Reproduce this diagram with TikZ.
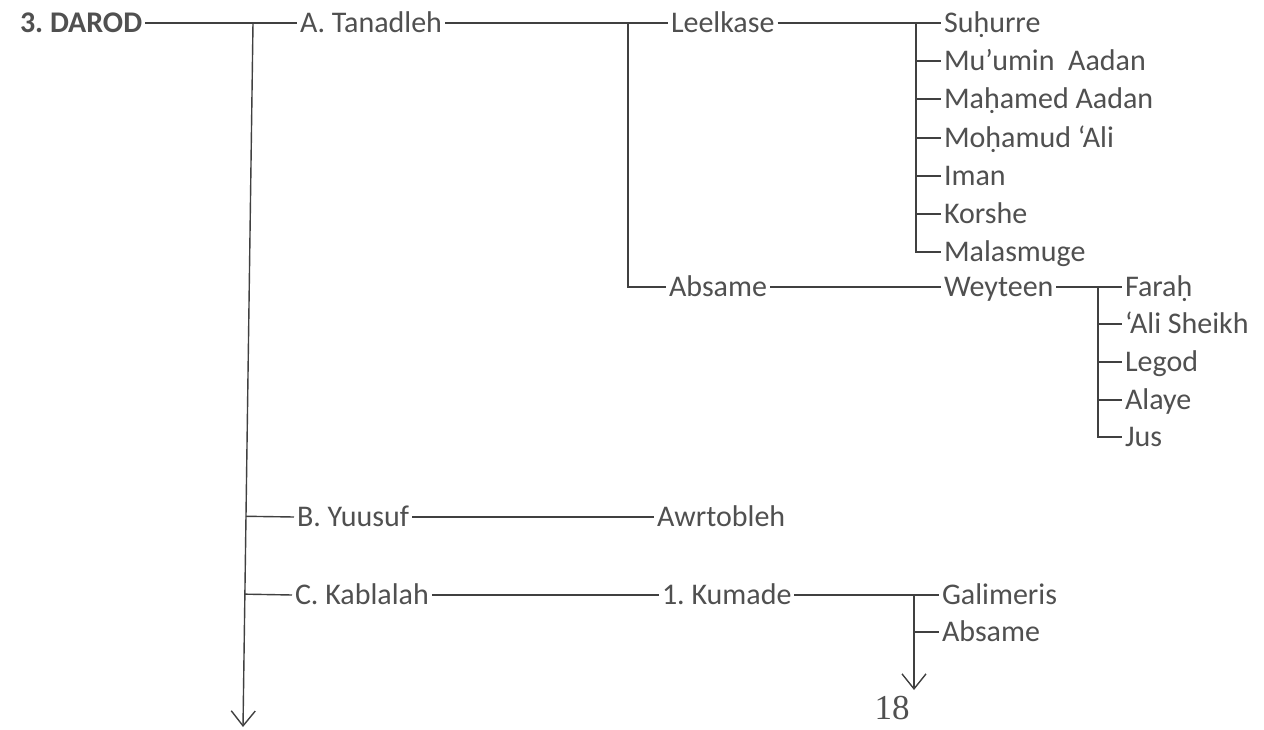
\documentclass[tikz,border=0pt]{standalone}
\usepackage{fontspec}
\newfontfamily\lblfont{Carlito}
\newfontfamily\numfont{Liberation Serif}
\usetikzlibrary{arrows.meta,calc}
\definecolor{txtgray}{HTML}{505050}
\definecolor{lngray}{HTML}{404040}
\tikzset{
  lbl/.style={anchor=west, inner xsep=3pt, inner ysep=0pt, outer sep=0pt,
    text height=19pt, text depth=0pt, text=txtgray,
    font=\lblfont\frenchspacing\fontsize{30}{36}\selectfont},
  conn/.style={draw=lngray, line width=1.4pt},
  barb/.style={-{Straight Barb[length=15pt,width=24pt,line width=1.4pt]}}
}
\begin{document}
\begin{tikzpicture}[x=1pt,y=-1pt]
\useasboundingbox[fill=white] (0,0) rectangle (1264,730);
% nodes
\node[lbl, font=\lblfont\frenchspacing\bfseries\fontsize{30}{36}\selectfont] (darod) at (17,23) {3. DAROD};
\node[lbl] (tan) at (297,23) {A. Tanadleh};
\node[lbl] (leel) at (668,23) {Leelkase};
\node[lbl] (suh) at (941,23) {Suḥurre};
\node[lbl] (mum) at (941,61) {Mu’umin\ \ Aadan};
\node[lbl] (mah) at (941,99) {Maḥamed Aadan};
\node[lbl] (moh) at (941,138) {Moḥamud ‘Ali};
\node[lbl] (ima) at (941,176) {Iman};
\node[lbl] (kor) at (941,214) {Korshe};
\node[lbl] (mal) at (941,252) {Malasmuge};
\node[lbl] (absa) at (666,287) {Absame};
\node[lbl] (wey) at (941,287) {Weyteen};
\node[lbl] (far) at (1122,287) {Faraḥ};
\node[lbl] (ali) at (1122,324) {‘Ali Sheikh};
\node[lbl] (leg) at (1122,362) {Legod};
\node[lbl] (ala) at (1122,400) {Alaye};
\node[lbl] (jus) at (1122,437) {Jus};
\node[lbl] (yuu) at (294,517) {B. Yuusuf};
\node[lbl] (awr) at (654,517) {Awrtobleh};
\node[lbl] (kab) at (292,595) {C. Kablalah};
\node[lbl] (kum) at (659,595) {1. Kumade};
\node[lbl] (gal) at (939,595) {Galimeris};
\node[lbl] (absb) at (939,632) {Absame};
\node[text=txtgray, font=\numfont\fontsize{35}{40}\selectfont, inner sep=0pt] (n18) at (892,708) {18};
% branch points
\coordinate (m0) at (253,23);
\coordinate (m1) at (243,727);
\coordinate (b1) at (628,23);
\coordinate (b2) at (916,23);
\coordinate (b3) at (1098,287);
\coordinate (b4) at (914,595);
\coordinate (b4e) at (914,690);
% main trunk
\draw[conn, barb] (m0) -- (m1);
\draw[conn] (darod.east) -- (tan.west);
\draw[conn] ($(m0)!0.7007!(m1)$) -- (yuu.west);
\draw[conn] ($(m0)!0.8113!(m1)$) -- (kab.west);
% Tanadleh
\draw[conn] (tan.east) -- (leel.west);
\draw[conn] (b1) |- (absa.west);
% Leelkase
\draw[conn] (leel.east) -- (suh.west);
\draw[conn] (b2) |- (mal.west);
\foreach \c in {mum,mah,moh,ima,kor} \draw[conn] (b2 |- \c.west) -- (\c.west);
% Absame -> Weyteen
\draw[conn] (absa.east) -- (wey.west);
\draw[conn] (wey.east) -- (far.west);
\draw[conn] (b3) |- (jus.west);
\foreach \c in {ali,leg,ala} \draw[conn] (b3 |- \c.west) -- (\c.west);
% Yuusuf
\draw[conn] (yuu.east) -- (awr.west);
% Kablalah
\draw[conn] (kab.east) -- (kum.west);
\draw[conn] (kum.east) -- (gal.west);
\draw[conn, barb] (b4) -- (b4e);
\draw[conn] (b4 |- absb.west) -- (absb.west);
\end{tikzpicture}
\end{document}
